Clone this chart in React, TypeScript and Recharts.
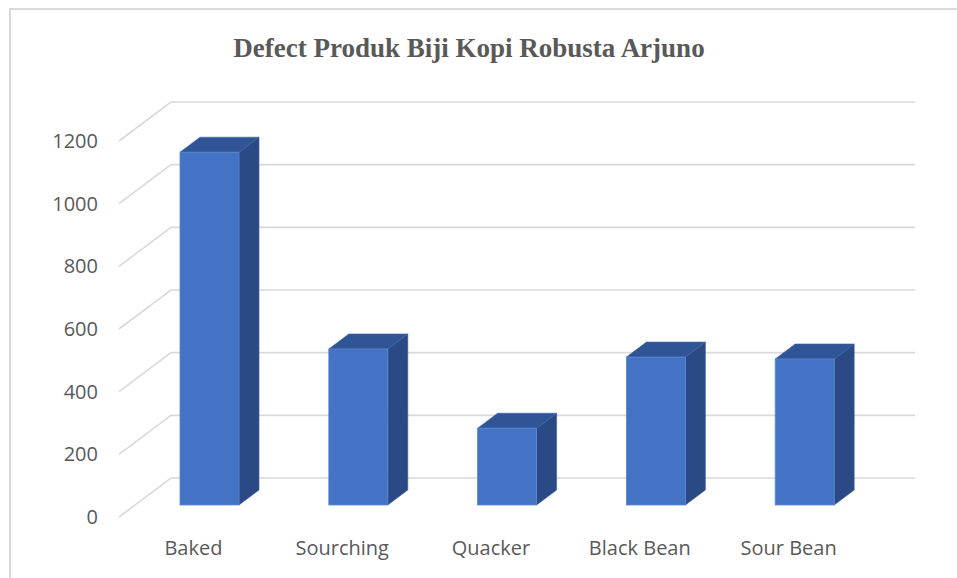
import { BarChart, Bar, XAxis, YAxis, CartesianGrid } from "recharts";

const categories = ["Baked", "Sourching", "Quacker", "Black Bean", "Sour Bean"];
const defectCounts = [1126, 498, 245, 472, 466];
const valueTicks = [0, 200, 400, 600, 800, 1000, 1200];

const data = categories.map((name, i) => ({ name, value: defectCounts[i] }));

// depth offsets of the fake 3D floor / bars
const WALL_DX = 52;
const WALL_DY = -39;
const BAR_DX = 16;
const BAR_DY = -12;
const DEPTH_DX = 20;
const DEPTH_DY = -15;

const textColor = "#595959";
const gridColor = "#d9d9d9";

function GridLine(props: any) {
	const { x1, x2, y1 } = props;
	const bx = x1 + WALL_DX;
	const by = y1 + WALL_DY;
	return (
		<polyline
			key={props.key}
			points={`${x1},${y1} ${bx},${by} ${x2 + WALL_DX},${by}`}
			fill="none"
			stroke={gridColor}
			strokeWidth={1.6}
		/>
	);
}

function Bar3D(props: any) {
	const { x, y, width, height } = props;
	if (!height) return null;
	const fx = x + BAR_DX;
	const fy = y + BAR_DY;
	const w = width;
	const h = height;
	const top = `${fx},${fy} ${fx + DEPTH_DX},${fy + DEPTH_DY} ${fx + w + DEPTH_DX},${fy + DEPTH_DY} ${fx + w},${fy}`;
	const side = `${fx + w},${fy} ${fx + w + DEPTH_DX},${fy + DEPTH_DY} ${fx + w + DEPTH_DX},${fy + h + DEPTH_DY} ${fx + w},${fy + h}`;
	return (
		<g>
			<polygon points={side} fill="#2b4a85" stroke="#3a5d9c" strokeWidth={0.6} />
			<polygon points={top} fill="#2f5597" stroke="#3a62a8" strokeWidth={0.6} />
			<rect x={fx} y={fy} width={w} height={h} fill="#4472c4" stroke="#5b87d2" strokeWidth={0.8} />
		</g>
	);
}

export default function App() {
	return (
		<div style={{ position: "relative", width: 957, height: 578, background: "#fff", overflow: "hidden" }}>
			<style>{"body{margin:0}"}</style>
			<div
				style={{
					position: "absolute",
					left: 9,
					top: 8,
					width: 1000,
					height: 700,
					borderLeft: `2px solid ${gridColor}`,
					borderTop: `2px solid ${gridColor}`,
				}}
			/>
			<div
				style={{
					position: "absolute",
					left: 0,
					top: 30,
					width: 938,
					textAlign: "center",
					fontFamily: "'Liberation Serif', serif",
					fontWeight: "bold",
					fontSize: 27,
					color: textColor,
					lineHeight: "36px",
				}}
			>
				Defect Produk Biji Kopi Robusta Arjuno
			</div>
			<div style={{ position: "absolute", left: 0, top: 0 }}>
				<BarChart
					width={957}
					height={578}
					data={data}
					margin={{ top: 141, right: 94, bottom: 0, left: 0 }}
				>
					<CartesianGrid vertical={false} horizontal={(p: any) => <GridLine {...p} />} />
					<XAxis
						dataKey="name"
						height={61}
						axisLine={false}
						tickLine={false}
						tickMargin={18}
						tick={{ fill: textColor, fontSize: 20, fontFamily: "'Open Sans', sans-serif" }}
					/>
					<YAxis
						width={119}
						domain={[0, 1200]}
						ticks={valueTicks}
						axisLine={false}
						tickLine={false}
						tickMargin={15}
						tick={{ fill: textColor, fontSize: 20, fontFamily: "'Open Sans', sans-serif" }}
					/>
					<Bar dataKey="value" barSize={59} shape={Bar3D} isAnimationActive={false} />
				</BarChart>
			</div>
		</div>
	);
}
